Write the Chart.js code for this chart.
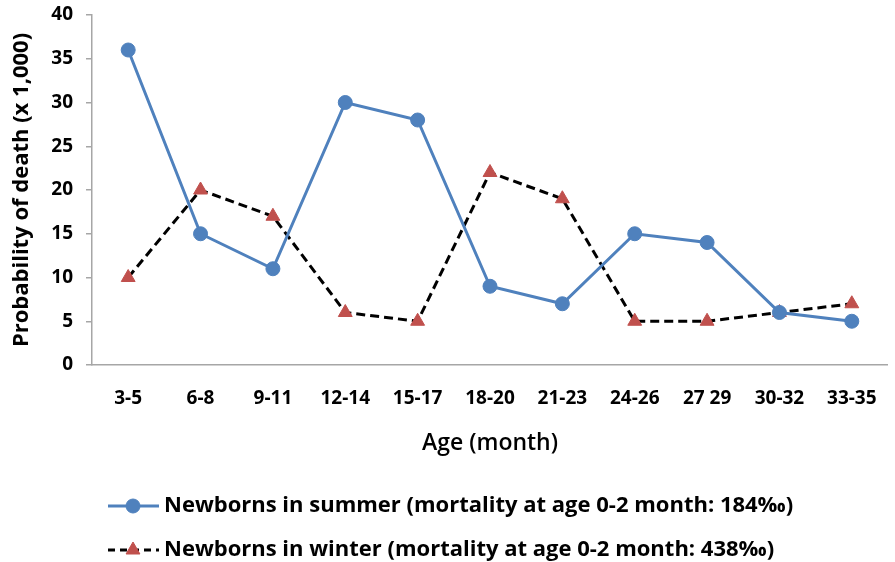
<!DOCTYPE html>
<html>
<head>
<meta charset="utf-8">
<script src="https://cdn.jsdelivr.net/npm/chart.js@4/dist/chart.umd.min.js"></script>
<style>
  html, body { margin: 0; padding: 0; background: #fff; overflow: hidden; }
  #wrap { width: 899px; height: 562px; }
</style>
</head>
<body>
<div id="wrap"><canvas id="c" width="899" height="562"></canvas></div>
<script>
// Age groups (months) on the x axis
const ageGroups = ['3-5', '6-8', '9-11', '12-14', '15-17', '18-20', '21-23', '24-26', '27 29', '30-32', '33-35'];

// Probability of death per 1,000
const summerValues = [36, 15, 11, 30, 28, 9, 7, 15, 14, 6, 5];
const winterValues = [10, 20, 17, 6, 5, 22, 19, 5, 5, 6, 7];

const seriesLabels = [
  'Newborns in summer (mortality at age 0-2 month: 184\u2030)',
  'Newborns in winter (mortality at age 0-2 month: 438\u2030)'
];

const FONT = '"Open Sans", Lato, "DejaVu Sans", sans-serif';
const BLUE = '#4F81BD';
const RED = '#C0504D';
const AXIS = '#A6A6A6';

// Legend stacked below the x-axis title, one series per row
const stackedLegend = {
  id: 'stackedLegend',
  afterDraw(chart) {
    const ctx = chart.ctx;
    const rows = [506, 550];
    chart.data.datasets.forEach((ds, i) => {
      const y = rows[i];
      ctx.save();
      ctx.strokeStyle = ds.borderColor;
      ctx.lineWidth = ds.borderWidth;
      ctx.setLineDash(ds.borderDash ? [7, 5] : []);
      ctx.beginPath();
      ctx.moveTo(108, y);
      ctx.lineTo(159, y);
      ctx.stroke();
      ctx.setLineDash([]);
      ctx.fillStyle = ds.pointBackgroundColor;
      ctx.strokeStyle = ds.pointBorderColor;
      ctx.lineWidth = 1;
      Chart.helpers.drawPoint(ctx, {
        pointStyle: ds.pointStyle,
        radius: ds.pointRadius,
        borderWidth: 1,
        rotation: 0
      }, 133, y);
      ctx.fillStyle = '#000';
      ctx.font = 'bold 22px ' + FONT;
      ctx.textBaseline = 'middle';
      ctx.textAlign = 'left';
      ctx.fillText(ds.label, 164, y);
      ctx.restore();
    });
  }
};

new Chart(document.getElementById('c'), {
  type: 'line',
  data: {
    labels: ageGroups,
    datasets: [
      {
        label: seriesLabels[0],
        data: summerValues,
        borderColor: BLUE,
        backgroundColor: BLUE,
        borderWidth: 3,
        pointStyle: 'circle',
        pointRadius: 7,
        pointBackgroundColor: BLUE,
        pointBorderColor: BLUE,
        pointBorderWidth: 1,
        tension: 0
      },
      {
        label: seriesLabels[1],
        data: winterValues,
        borderColor: '#000000',
        backgroundColor: RED,
        borderWidth: 3,
        borderDash: [9, 5],
        pointStyle: 'triangle',
        pointRadius: 8,
        pointBackgroundColor: RED,
        pointBorderColor: RED,
        pointBorderWidth: 1,
        tension: 0
      }
    ]
  },
  options: {
    responsive: false,
    animation: false,
    layout: { padding: { top: 15, right: 0, bottom: 97, left: 0 } },
    plugins: {
      legend: { display: false },
      tooltip: { enabled: false }
    },
    scales: {
      x: {
        offset: true,
        afterFit(scale) { scale.height = 100; },
        grid: { display: false, drawTicks: false },
        border: { display: true, color: AXIS, width: 1.5 },
        ticks: {
          color: '#000',
          padding: 22,
          maxRotation: 0,
          autoSkip: false,
          font: { family: FONT, size: 19, weight: 'bold' }
        },
        title: {
          display: true,
          text: 'Age (month)',
          color: '#000',
          padding: { top: 0, bottom: 8 },
          font: { family: FONT, size: 23, weight: '600' }
        }
      },
      y: {
        min: 0,
        max: 40,
        afterFit(scale) {
          scale.width = 92;
          scale.paddingTop = 0;
          scale.paddingBottom = 0;
        },
        grid: {
          display: true,
          drawOnChartArea: false,
          drawTicks: true,
          tickLength: 6,
          color: AXIS,
          lineWidth: 1.5
        },
        border: { display: true, color: AXIS, width: 1.5 },
        ticks: {
          stepSize: 5,
          color: '#000',
          padding: 13,
          font: { family: FONT, size: 19, weight: 'bold' }
        },
        title: {
          display: true,
          text: 'Probability of death (x 1,000)',
          color: '#000',
          padding: { top: 9, bottom: 0 },
          font: { family: FONT, size: 22, weight: 'bold' }
        }
      }
    }
  },
  plugins: [stackedLegend]
});
</script>
</body>
</html>
